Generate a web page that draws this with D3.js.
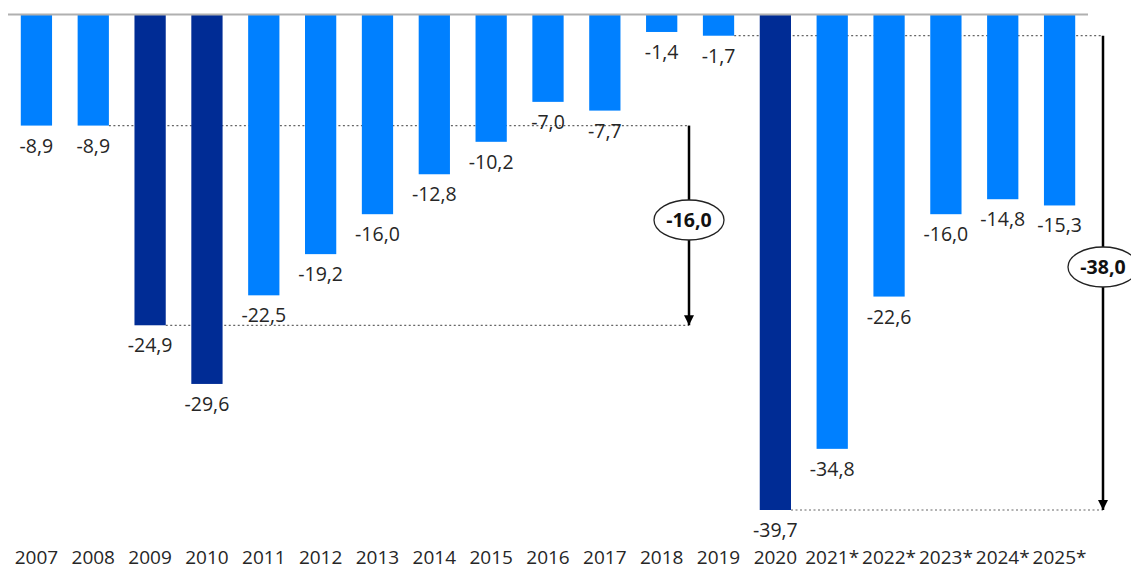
<!DOCTYPE html>
<html>
<head>
<meta charset="utf-8">
<script src="https://cdn.jsdelivr.net/npm/d3@7"></script>
<style>
  body { margin: 0; background: #fff; }
  svg text { font-family: "Open Sans", "Liberation Sans", sans-serif; }
</style>
</head>
<body>
<div id="chart"></div>
<script>
// Balance by year, dark bars are crisis years
var years = ["2007","2008","2009","2010","2011","2012","2013","2014","2015","2016","2017","2018","2019","2020","2021*","2022*","2023*","2024*","2025*"];
var values = [-8.9,-8.9,-24.9,-29.6,-22.5,-19.2,-16.0,-12.8,-10.2,-7.0,-7.7,-1.4,-1.7,-39.7,-34.8,-22.6,-16.0,-14.8,-15.3];
var crisisYears = ["2009","2010","2020"];

// the two "drop" brackets: from level, to level, label
var drops = [
  { fromYear: "2008", toYear: "2009", from: -8.9, to: -24.9, label: "-16,0", ax: 689, cy: 220 },
  { fromYear: "2019", toYear: "2020", from: -1.7, to: -39.7, label: "-38,0", ax: 1103, cy: 267 }
];

var W = 1131, H = 572;

var svg = d3.select("#chart")
    .append("svg")
    .attr("width", W)
    .attr("height", H)

var x = d3.scaleBand()
    .domain(years)
    .range([8, 1088])
    .paddingInner(0.45)
    .paddingOuter(0.225)

var y = d3.scaleLinear()
    .domain([0, -39.7])
    .range([14.5, 510])

var fmt = function(v) { return v.toFixed(1).replace(".", ","); }

svg.append("defs").append("marker")
    .attr("id", "arrow")
    .attr("viewBox", "0 0 10 10")
    .attr("refX", 10).attr("refY", 5)
    .attr("markerWidth", 4).attr("markerHeight", 4)
    .attr("orient", "auto")
    .append("path")
    .attr("d", "M0,0 L10,5 L0,10 z")
    .attr("fill", "#000")

// dotted guide lines, drawn first so bars sit on top
drops.forEach(function(d) {
  svg.append("line")
    .attr("x1", x(d.fromYear) + x.bandwidth()).attr("x2", d.ax)
    .attr("y1", y(d.from)).attr("y2", y(d.from))
    .attr("stroke", "#666").attr("stroke-width", 1.2)
    .attr("stroke-dasharray", "2,2.5")
  svg.append("line")
    .attr("x1", x(d.toYear) + x.bandwidth()).attr("x2", d.ax)
    .attr("y1", y(d.to)).attr("y2", y(d.to))
    .attr("stroke", "#666").attr("stroke-width", 1.2)
    .attr("stroke-dasharray", "2,2.5")
});

svg.selectAll("rect.bar")
    .data(values)
    .enter()
    .append("rect")
    .attr("class", "bar")
    .attr("x", function(d, i) { return x(years[i]); })
    .attr("y", y(0))
    .attr("width", x.bandwidth())
    .attr("height", function(d) { return y(d) - y(0); })
    .attr("fill", function(d, i) { return crisisYears.indexOf(years[i]) >= 0 ? "#002C95" : "#0080FF"; })

// zero line
svg.append("line")
    .attr("x1", 8).attr("x2", 1088)
    .attr("y1", y(0)).attr("y2", y(0))
    .attr("stroke", "#b0b0b0").attr("stroke-width", 2)

// value labels
svg.selectAll("text.val")
    .data(values)
    .enter()
    .append("text")
    .attr("class", "val")
    .attr("x", function(d, i) { return x(years[i]) + x.bandwidth() / 2; })
    .attr("y", function(d) { return y(d) + 27; })
    .attr("text-anchor", "middle")
    .attr("font-size", 19.5)
    .attr("fill", "#262626")
    .text(fmt)

// year labels
svg.selectAll("text.year")
    .data(years)
    .enter()
    .append("text")
    .attr("class", "year")
    .attr("x", function(d) { return x(d) + x.bandwidth() / 2; })
    .attr("y", 564)
    .attr("text-anchor", "middle")
    .attr("font-size", 19)
    .attr("fill", "#262626")
    .text(function(d) { return d; })

// arrows with the oval labels
drops.forEach(function(d) {
  svg.append("line")
    .attr("x1", d.ax).attr("x2", d.ax)
    .attr("y1", y(d.from)).attr("y2", y(d.to))
    .attr("stroke", "#000").attr("stroke-width", 2.5)
    .attr("marker-end", "url(#arrow)")
  svg.append("ellipse")
    .attr("cx", d.ax).attr("cy", d.cy)
    .attr("rx", 35).attr("ry", 20)
    .attr("fill", "#fff")
    .attr("stroke", "#222").attr("stroke-width", 1.3)
  svg.append("text")
    .attr("x", d.ax).attr("y", d.cy + 7)
    .attr("text-anchor", "middle")
    .attr("font-size", 19.5)
    .attr("font-weight", "bold")
    .attr("fill", "#111")
    .text(d.label)
});
</script>
</body>
</html>
